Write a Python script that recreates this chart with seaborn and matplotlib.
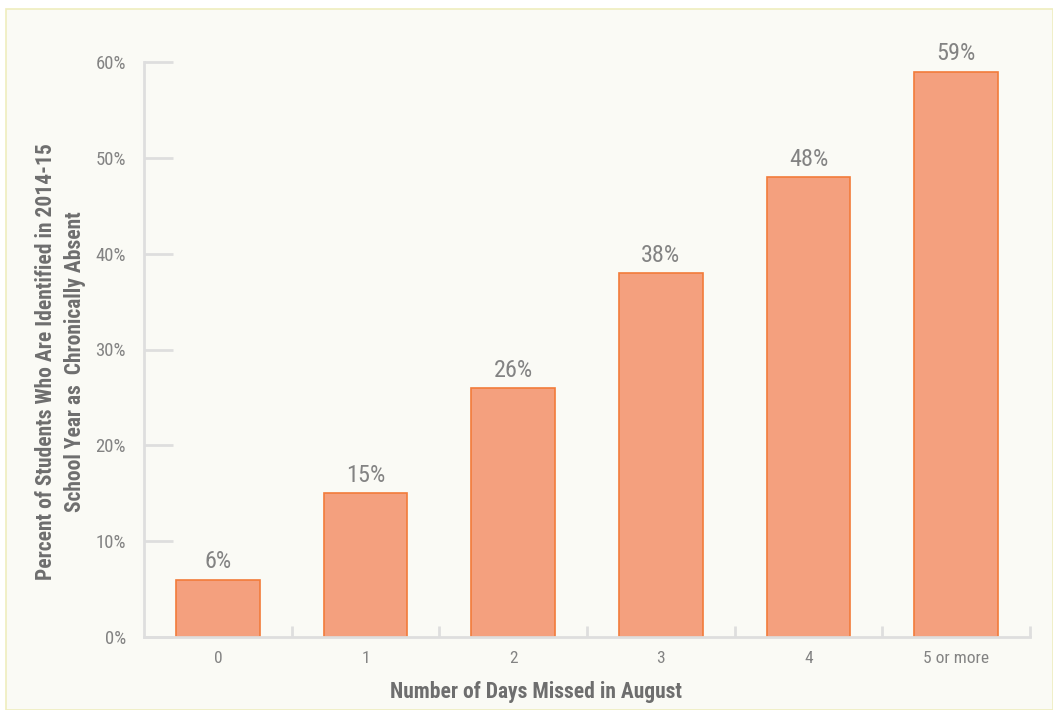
import matplotlib
matplotlib.use("Agg")
import matplotlib.pyplot as plt
import matplotlib.patches as mpatches
from matplotlib import font_manager
import seaborn as sns
import pandas as pd

categories = ["0", "1", "2", "3", "4", "5 or more"]
percent_absent = [6, 15, 26, 38, 48, 59]
y_ticks = [0, 10, 20, 30, 40, 50, 60]

sns.set_theme(style="white")

# prefer a narrow sans face for all text
fonts = font_manager.fontManager.ttflist
names = {f.name for f in fonts}
family, stretch = "DejaVu Sans", "normal"
for cand in ["Roboto Condensed", "Open Sans Condensed", "Liberation Sans Narrow",
             "Noto Sans Condensed", "DejaVu Sans Condensed"]:
    if cand in names:
        family = cand
        break
else:
    for cand in ["Roboto", "Open Sans", "Noto Sans", "DejaVu Sans"]:
        cond = [f for f in fonts if f.name == cand and str(f.stretch) in
                ("condensed", "semi-condensed", "extra-condensed", "500", "600", "700", "300", "200")]
        if cond:
            family, stretch = cand, "condensed"
            break
plt.rcParams["font.family"] = [family, "DejaVu Sans"]
plt.rcParams["font.stretch"] = stretch

panel_bg = "#FAFAF5"
grey_txt = "#838383"
label_txt = "#6E6E6E"
spine_col = "#DEDEDE"

df = pd.DataFrame({"days": categories, "pct": percent_absent})

fig = plt.figure(figsize=(10.53, 7.10), dpi=100, facecolor="white")
fig.patches.append(mpatches.Rectangle((6 / 1053, 0), 1 - 6 / 1053, 1 - 9 / 710,
                                      transform=fig.transFigure, facecolor=panel_bg,
                                      edgecolor="#EFEDBE", linewidth=1.2, zorder=-10))

ax = fig.add_axes([144 / 1053, 73 / 710, (1030 - 144) / 1053, (637 - 62) / 710])
ax.set_facecolor("none")

sns.barplot(data=df, x="days", y="pct", ax=ax, color="#F4A07E", width=0.565,
            edgecolor="#F27B3A", linewidth=1.2, saturation=1)

ax.set_xlim(-0.5, len(categories) - 0.5)
ax.set_ylim(0, 60)

for i, v in enumerate(percent_absent):
    ax.text(i, v + 0.65, f"{v}%", ha="center", va="bottom", fontsize=17.5,
            color=grey_txt, clip_on=False)

for side in ["top", "right"]:
    ax.spines[side].set_visible(False)
for side in ["left", "bottom"]:
    ax.spines[side].set_color(spine_col)
    ax.spines[side].set_linewidth(2)

ax.set_yticks(y_ticks)
ax.set_yticklabels([f"{t}%" for t in y_ticks])
ax.tick_params(axis="y", left=True, direction="in", length=21, width=2, color=spine_col,
               labelsize=13.5, labelcolor=grey_txt, pad=13)
for lbl in ax.get_yticklabels():
    lbl.set_va("center_baseline")
# category ticks sit at the boundaries between bars
ax.set_xticks(range(len(categories)))
ax.set_xticklabels(categories)
ax.tick_params(axis="x", length=0, labelsize=12.5, labelcolor=grey_txt, pad=10)
for b in [i + 0.5 for i in range(len(categories))]:
    ax.plot([b, b], [0, 1.1], color=spine_col, lw=2, clip_on=False, solid_capstyle="butt")

ax.set_xlabel("Number of Days Missed in August", fontsize=15.5, fontweight="bold",
              color=label_txt)
ax.xaxis.set_label_coords((536 - 144) / (1030 - 144), -0.076)
ax.set_ylabel("Percent of Students Who Are Identified in 2014-15\nSchool Year as  Chronically Absent",
              fontsize=15.5, fontweight="bold", color=label_txt, linespacing=1.45)
ax.yaxis.set_label_coords(-0.065, (637 - 362) / (637 - 62))

fig.savefig("out.png", dpi=100, facecolor="white")
